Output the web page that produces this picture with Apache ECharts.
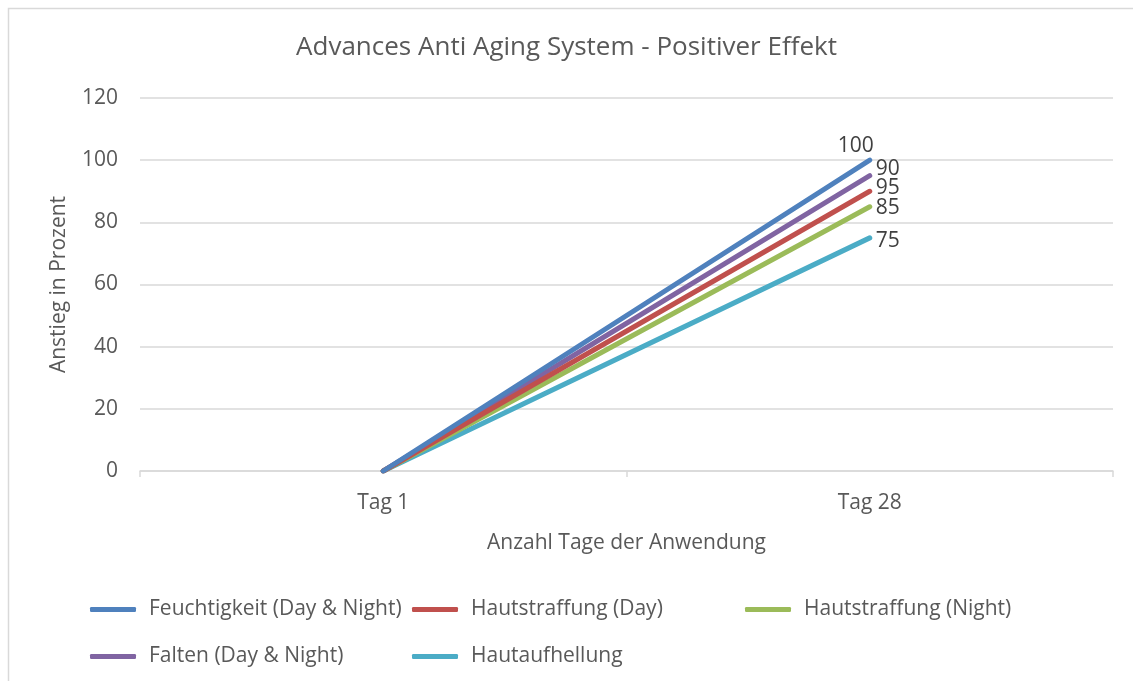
<!DOCTYPE html>
<html>
<head>
<meta charset="utf-8">
<script src="https://cdn.jsdelivr.net/npm/echarts@6/dist/echarts.min.js"></script>
<style>
  html, body { margin: 0; padding: 0; background: #fff; }
  #chart { width: 1133px; height: 681px; }
</style>
</head>
<body>
<div id="chart"></div>
<script>
const days = ["Tag 1", "Tag 28"];
const seriesNames = [
  "Feuchtigkeit (Day & Night)",
  "Hautstraffung (Day)",
  "Hautstraffung (Night)",
  "Falten (Day & Night)",
  "Hautaufhellung"
];
const feuchtigkeit = [0, 100];
const straffungDay = [0, 90];
const straffungNight = [0, 85];
const falten = [0, 95];
const aufhellung = [0, 75];
// label text as printed next to the end points
const endLabels = ["100", "95", "85", "90", "75"];
const yTicks = [0, 20, 40, 60, 80, 100, 120];

const colors = ["#4F81BD", "#C0504D", "#9BBB59", "#8064A2", "#4BACC6"];
const values = [feuchtigkeit, straffungDay, straffungNight, falten, aufhellung];
const labelPos = [
  { position: "top", offset: [-14, 2] },
  { position: "right", offset: [0, -3] },
  { position: "right", offset: [0, 1] },
  { position: "right", offset: [0, -7] },
  { position: "right", offset: [0, 3] }
];
const font = "'Open Sans', sans-serif";
const textColor = "#595959";

const chart = echarts.init(document.getElementById("chart"));

const legendCommon = {
  orient: "vertical",
  top: 594,
  itemWidth: 46,
  itemHeight: 5,
  itemGap: 26,
  icon: "roundRect",
  textStyle: {
    fontFamily: font,
    fontSize: 21,
    color: textColor,
    padding: [0, 0, 0, 8]
  }
};

const option = {
  backgroundColor: "#fff",
  animation: false,
  title: {
    text: "Advances Anti Aging System - Positiver Effekt",
    left: "center",
    top: 30,
    textStyle: {
      fontFamily: font,
      fontSize: 26,
      fontWeight: "normal",
      color: textColor
    }
  },
  graphic: [
    {
      type: "rect",
      shape: { x: 8.5, y: 8.5, width: 1300, height: 900 },
      style: { fill: "none", stroke: "#d9d9d9", lineWidth: 1.5 },
      silent: true
    }
  ],
  legend: [
    Object.assign({}, legendCommon, { left: 85, data: [seriesNames[0], seriesNames[3]] }),
    Object.assign({}, legendCommon, { left: 407, data: [seriesNames[1], seriesNames[4]] }),
    Object.assign({}, legendCommon, { left: 740, data: [seriesNames[2]] })
  ],
  grid: { left: 140, right: 20, top: 98, bottom: 210 },
  xAxis: {
    type: "category",
    data: days,
    boundaryGap: true,
    name: "Anzahl Tage der Anwendung",
    nameLocation: "middle",
    nameGap: 62,
    nameTextStyle: { fontFamily: font, fontSize: 21, color: textColor },
    axisLine: { lineStyle: { color: "#d9d9d9", width: 1.5 } },
    axisTick: { show: true, length: 6, lineStyle: { color: "#d9d9d9", width: 1.5 } },
    axisLabel: { fontFamily: font, fontSize: 21, color: textColor, margin: 22 }
  },
  yAxis: {
    type: "value",
    min: yTicks[0],
    max: yTicks[yTicks.length - 1],
    interval: 20,
    name: "Anstieg in Prozent",
    nameLocation: "middle",
    nameGap: 70,
    nameTextStyle: { fontFamily: font, fontSize: 21, color: textColor },
    axisLine: { show: false },
    axisTick: { show: false },
    axisLabel: { fontFamily: font, fontSize: 21, color: textColor, margin: 22 },
    splitLine: { lineStyle: { color: "#d9d9d9", width: 1.5 } }
  },
  series: seriesNames.map((name, i) => ({
    name: name,
    type: "line",
    data: values[i],
    symbol: "circle",
    symbolSize: 0,
    showSymbol: true,
    color: colors[i],
    lineStyle: { width: 5, cap: "round", color: colors[i] },
    z: 10 - i,
    label: {
      show: true,
      position: labelPos[i].position,
      offset: labelPos[i].offset,
      distance: 6,
      fontFamily: font,
      fontSize: 21,
      color: "#404040",
      formatter: (p) => (p.dataIndex === 1 ? endLabels[i] : "")
    }
  }))
};

chart.setOption(option);
</script>
</body>
</html>
